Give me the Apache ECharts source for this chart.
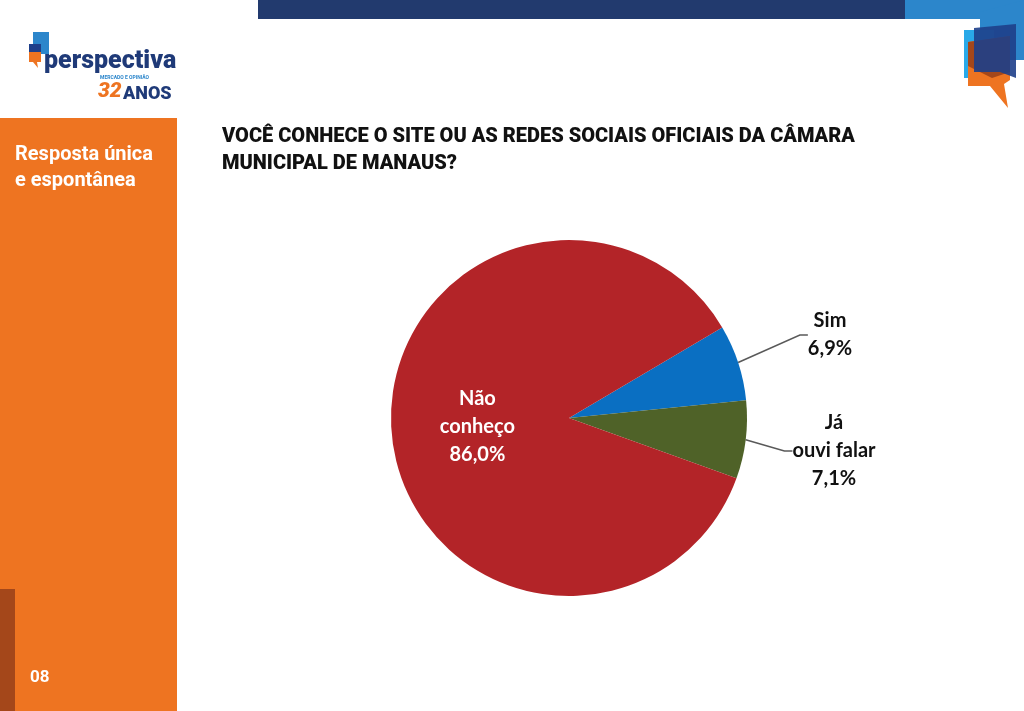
<!DOCTYPE html>
<html><head><meta charset="utf-8">
<script src="https://cdn.jsdelivr.net/npm/echarts@6/dist/echarts.min.js"></script>
<style>html,body{margin:0;padding:0;background:#fff}#c{width:1024px;height:711px}</style>
</head><body><div id="c"></div>
<script>
const categories = ['Sim', 'Já\nouvi falar', 'Não\nconheço'];
const values = [6.9, 7.1, 86.0];
const colors = ['#0A6FC2', '#4F6228', '#B32428'];
const titleText = 'VOCÊ CONHECE O SITE OU AS REDES SOCIAIS OFICIAIS DA CÂMARA\nMUNICIPAL DE MANAUS?';
const sideText = 'Resposta única\ne espontânea';
const pageNum = '08';

const chart = echarts.init(document.getElementById('c'));
const fmt = v => v.toFixed(1).replace('.', ',') + '%';
chart.setOption({
  animation: false,
  backgroundColor: '#fff',
  graphic: [
    {type:'rect', shape:{x:0,y:118,width:177,height:593}, style:{fill:'#EE7421'}},
    {type:'rect', shape:{x:0,y:589,width:15,height:122}, style:{fill:'#A4471A'}},
    {type:'rect', shape:{x:258,y:0,width:648,height:19}, style:{fill:'#223A6E'}},
    {type:'rect', shape:{x:905,y:0,width:119,height:19}, style:{fill:'#2C86CB'}},
    // right decoration
    {type:'polygon', shape:{points:[[980,12],[1024,0],[1024,60],[980,60]]}, style:{fill:'#2C86CB'}},
    {type:'rect', shape:{x:964,y:30,width:30,height:48}, style:{fill:'#29A9E8'}},
    {type:'polygon', shape:{points:[[968,42],[1010,36],[1010,80],[1004,84],[1008,108],[990,86],[968,86]]}, style:{fill:'#EE7421'}},
    {type:'polygon', shape:{points:[[968,42],[1010,36],[1010,72],[992,78],[968,66]]}, style:{fill:'#A4471A'}},
    {type:'polygon', shape:{points:[[974,28],[1016,24],[1016,78],[1000,72],[974,72]]}, style:{fill:'#1E3F8A', opacity:0.9}},
    // logo
    {type:'rect', shape:{x:33,y:32,width:16,height:22}, style:{fill:'#2C86CB'}},
    {type:'rect', shape:{x:29,y:44,width:12,height:14}, style:{fill:'#1E3F8A'}},
    {type:'polygon', shape:{points:[[29,52],[41,52],[41,62],[37,62],[38,68],[33,62],[29,62]]}, style:{fill:'#EE7421'}},
    {type:'text', left:44, top:49, style:{text:'perspectiva', fill:'#1F3A78', font:'900 25px "Roboto", sans-serif'}},
    {type:'text', left:100, top:75, style:{text:'MERCADO E OPINIÃO', fill:'#2C86CB', font:'bold 5px "Roboto", sans-serif'}},
    {type:'text', left:98, top:81, style:{text:'32', fill:'#EE7421', font:'italic 900 21px "Roboto", sans-serif'}},
    {type:'text', left:123, top:85, style:{text:'ANOS', fill:'#1F3A78', font:'900 18px "Roboto", sans-serif'}},
    // sidebar text
    {type:'text', left:15, top:142, style:{text:sideText, fill:'#fff', font:'bold 20px "Roboto", sans-serif', lineHeight:26}},
    {type:'text', left:30, top:669, style:{text:pageNum, fill:'#fff', font:'bold 17px "Roboto", sans-serif'}},
    // title
    {type:'text', left:222, top:123, style:{text:titleText, fill:'#111', font:'900 20px "Roboto", sans-serif', lineHeight:27}}
  ],
  series: [{
    type: 'pie',
    center: [569, 418],
    radius: 178,
    startAngle: 30.6,
    clockwise: true,
    color: colors,
    itemStyle: {borderWidth: 0},
    labelLine: {show: true, length: 12, length2: 8, lineStyle: {color: '#595959', width: 1.5}},
    label: {
      fontFamily: 'Lato, "Open Sans", sans-serif', fontWeight: 'bold', fontSize: 20, color: '#111',
      lineHeight: 28, align: 'center',
      formatter: p => p.name + '\n' + fmt(p.value)
    },
    labelLayout: function (p) {
      if (p.dataIndex === 0) return {x: 830, y: 335, align: 'center', verticalAlign: 'middle'};
      if (p.dataIndex === 1) return {x: 834, y: 451, align: 'center', verticalAlign: 'middle'};
      return {};
    },
    data: categories.map((c, i) => {
      const d = {name: c, value: values[i]};
      if (i === 2) {
        d.label = {position: 'inside', color: '#fff'};
        d.labelLine = {show: false};
      }
      return d;
    })
  }]
});
</script></body></html>
